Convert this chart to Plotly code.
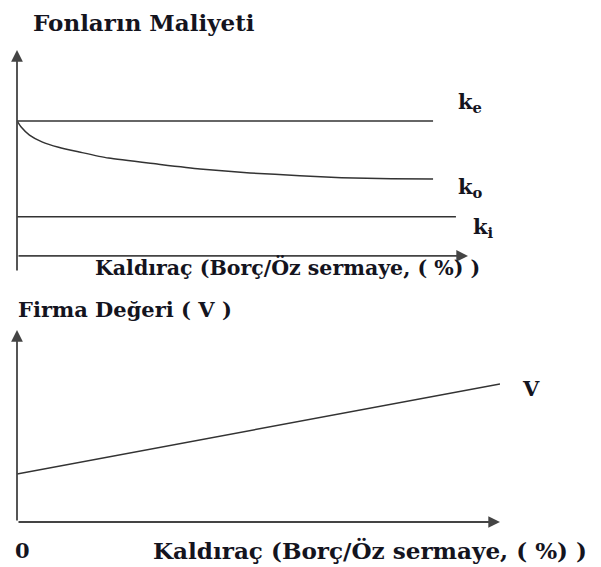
import plotly.graph_objects as go

# ust grafik: fonlarin maliyeti
kaldirac_ke = [0, 100]
ke = [10, 10]
kaldirac_ko = [0, 1, 3, 6, 10, 15, 22, 34, 44, 56, 68, 78, 90, 100]
ko = [10, 9.55, 8.95, 8.45, 8.05, 7.7, 7.25, 6.8, 6.45, 6.15, 5.95, 5.8, 5.72, 5.7]
kaldirac_ki = [0, 105.5]
ki = [2.9, 2.9]

# alt grafik: firma degeri
kaldirac_v = [0, 100]
v = [2.5, 7.19]

# sayfa kenar boslugu (body margin 8px) icin figur biraz kucuk
OFF = 8
W, H = 601 - OFF, 567 - OFF
FONT = "DejaVu Serif"
TXT = "#14141e"
LINE = "#333333"
AXIS = "#444444"


def px(x):
    return (x - OFF) / W


def py(y):
    return 1 - (y - OFF) / H


fig = go.Figure()
fig.add_scatter(x=kaldirac_ke, y=ke, mode="lines", line=dict(color=LINE, width=1.5), xaxis="x", yaxis="y")
fig.add_scatter(x=kaldirac_ko, y=ko, mode="lines", line=dict(color=LINE, width=1.5, shape="spline", smoothing=0.6), xaxis="x", yaxis="y")
fig.add_scatter(x=kaldirac_ki, y=ki, mode="lines", line=dict(color=LINE, width=1.5), xaxis="x", yaxis="y")
fig.add_scatter(x=kaldirac_v, y=v, mode="lines", line=dict(color=LINE, width=1.5), xaxis="x2", yaxis="y2")

fig.update_layout(
    width=W, height=H, margin=dict(l=0, r=0, t=0, b=0),
    paper_bgcolor="white", plot_bgcolor="white", showlegend=False,
    font=dict(family=FONT),
    xaxis=dict(domain=[px(17), px(468)], range=[0, 108.4], visible=False, fixedrange=True),
    yaxis=dict(domain=[py(272), py(50)], range=[-1.19, 15.26], visible=False, fixedrange=True),
    xaxis2=dict(domain=[px(17), px(500)], range=[0, 100], visible=False, anchor="y2", fixedrange=True),
    yaxis2=dict(domain=[py(522), py(330)], range=[0, 10], visible=False, anchor="x2", fixedrange=True),
)

ok = dict(showarrow=True, arrowhead=2, arrowsize=1.3, arrowwidth=1.8, arrowcolor=AXIS, text="")
# eksenler (oklu)
fig.add_annotation(x=0, y=15.26, ax=0, ay=-1.19, xref="x", yref="y", axref="x", ayref="y", **ok)
fig.add_annotation(x=108.4, y=0, ax=0, ay=0, xref="x", yref="y", axref="x", ayref="y", **ok)
fig.add_annotation(x=0, y=10, ax=0, ay=0, xref="x2", yref="y2", axref="x2", ayref="y2", **ok)
fig.add_annotation(x=100, y=0, ax=0, ay=0, xref="x2", yref="y2", axref="x2", ayref="y2", **ok)

def yazi(text, x, y, size, xanchor="left"):
    fig.add_annotation(text="<b>" + text + "</b>", x=px(x), y=py(y), xref="paper", yref="paper",
                       xanchor=xanchor, yanchor="middle", showarrow=False,
                       font=dict(family=FONT, size=size, color=TXT))

yazi("Fonların Maliyeti", 31, 23, 23)
yazi("Kaldıraç (Borç/Öz sermaye, ( %) )", 93, 268, 20.5)
yazi("Firma Değeri ( V )", 16, 309, 21)
yazi("0", 13, 550, 21)
yazi("Kaldıraç (Borç/Öz sermaye, ( %) )", 151, 550, 23.1)
yazi("V", 531, 388, 21, xanchor="center")
yazi("k<sub>e</sub>", 456, 102, 21)
yazi("k<sub>o</sub>", 456, 187, 21)
yazi("k<sub>i</sub>", 471, 227, 21)

fig.write_html("out.html")
